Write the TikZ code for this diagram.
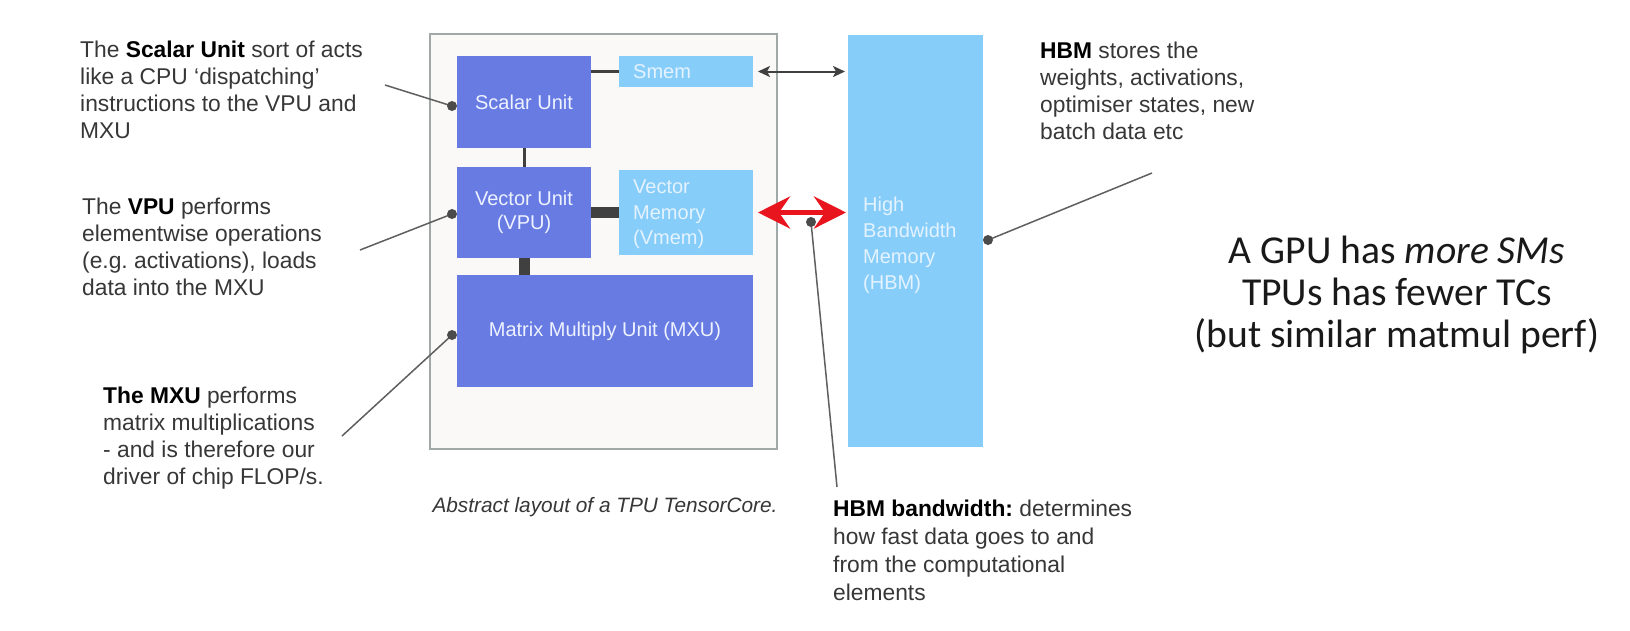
\documentclass[tikz,border=0pt]{standalone}
\usepackage{fontspec}
\setmainfont{Liberation Sans}
\newfontfamily\calibfont{Carlito}
\usetikzlibrary{arrows.meta}
\frenchspacing
\definecolor{unitblue}{RGB}{103,123,227}
\definecolor{memblue}{RGB}{135,205,250}
\definecolor{corefill}{RGB}{251,249,247}
\definecolor{coreedge}{RGB}{160,168,168}
\definecolor{conn}{RGB}{64,64,64}
\definecolor{bodytext}{RGB}{55,55,55}
\definecolor{leader}{RGB}{95,95,95}
\definecolor{dotcol}{RGB}{75,75,75}
\definecolor{hbmred}{RGB}{232,20,30}
\definecolor{memtext}{RGB}{228,243,255}
\definecolor{unittext}{RGB}{238,242,255}
\begin{document}
\begin{tikzpicture}[x=1pt,y=-1pt,
 corebox/.style={fill=corefill, draw=coreedge, line width=1.5pt, anchor=north west, inner sep=0, outer sep=0},
 unitbox/.style={fill=unitblue, draw=none, anchor=north west, inner sep=0, outer sep=0, text=unittext, font=\fontsize{20}{24}\selectfont, align=center},
 membox/.style={fill=memblue, draw=none, anchor=north west, inner sep=0, outer sep=0},
 memlabel/.style={anchor=north west, inner sep=0, text=memtext, font=\fontsize{20}{25.5}\selectfont, align=left},
 note/.style={anchor=north west, inner sep=0, text=bodytext, font=\fontsize{22.8}{27}\selectfont, align=left},
 leadline/.style={draw=leader, line width=1.5pt},
 dotmark/.style={circle, fill=dotcol, inner sep=0, minimum size=10pt},
 link/.style={draw=conn, line width=3pt},
 thicklink/.style={draw=conn, line width=11pt},
 smemarrow/.style={draw=conn, line width=2pt, {Stealth[length=12pt,width=11pt,inset=3pt]}-{Stealth[length=12pt,width=11pt,inset=3pt]}},
 redarrow/.style={draw=hbmred, line width=5.5pt, {Stealth[length=32pt,width=32pt,inset=11pt]}-{Stealth[length=32pt,width=32pt,inset=11pt]}},
]
\useasboundingbox (0,0) rectangle (1630,630);
\fill[white] (0,0) rectangle (1630,630);

% TensorCore
\node[corebox, minimum width=347pt, minimum height=415pt] (core) at (430,34) {};
\node[unitbox, minimum width=134pt, minimum height=92pt] (scalar) at (457,56) {Scalar Unit};
\node[membox, minimum width=134pt, minimum height=31pt] (smem) at (619,56) {};
\node[unitbox, minimum width=134pt, minimum height=91pt] (vector) at (457,167) {Vector Unit\\(VPU)};
\node[membox, minimum width=134pt, minimum height=85pt] (vmem) at (619,170) {};
\node[unitbox, minimum width=296pt, minimum height=112pt] (mxu) at (457,275) {Matrix Multiply Unit (MXU)};
\node[membox, minimum width=135pt, minimum height=412pt] (hbm) at (848,35) {};

\node[memlabel, anchor=west] (smemlbl) at (633,72) {Smem};
\node[memlabel] (vmemlbl) at (633,180) {Vector\\Memory\\(Vmem)};
\node[memlabel, font=\fontsize{20}{26}\selectfont] (hbmlbl) at (863,197) {High\\Bandwidth\\Memory\\(HBM)};

% connectors
\draw[link] (scalar.east |- smem.west) -- (smem.west);
\draw[link] (scalar.south) -- (vector.north);
\draw[thicklink] (vector.east) -- (vector.east -| vmem.west);
\draw[thicklink] (vector.south) -- (vector.south |- mxu.north);
\draw[smemarrow] ([xshift=5pt]smem.east) -- ([xshift=-3pt]smem.east -| hbm.west);
\draw[redarrow] ([xshift=5pt]vmem.east) -- ([xshift=-2pt]vmem.east -| hbm.west);

% notes
\node[note] (scalarnote) at (80,41) {The \textbf{\color{black}Scalar Unit} sort of acts\\like a CPU ‘dispatching’\\instructions to the VPU and\\MXU};
\node[note] (vpunote) at (82,198) {The \textbf{\color{black}VPU} performs\\elementwise operations\\(e.g. activations), loads\\data into the MXU};
\node[note] (mxunote) at (103,387) {\textbf{\color{black}The MXU} performs\\matrix multiplications\\- and is therefore our\\driver of chip FLOP/s.};
\node[note] (hbmnote) at (1040,42) {\textbf{\color{black}HBM} stores the\\weights, activations,\\optimiser states, new\\batch data etc};
\node[note, font=\fontsize{22.8}{28}\selectfont] (bwnote) at (833,500) {\textbf{\color{black}HBM bandwidth:} determines\\how fast data goes to and\\from the computational\\elements};
\node[font=\fontsize{20.8}{25}\selectfont\itshape, text=bodytext, inner sep=0] (caption) at (605,507) {Abstract layout of a TPU TensorCore.};
\node[anchor=north, align=center, inner sep=0, font=\calibfont\fontsize{39.6}{42}\selectfont, text=black!90] (gpunote) at (1397,236) {A GPU has \textit{more SMs}\\TPUs has fewer TCs\\(but similar matmul perf)};

% leaders
\coordinate (sEnd) at (385,85);
\coordinate (vEnd) at (360,250);
\coordinate (mEnd) at (342,436);
\coordinate (hEnd) at (1152,173);
\coordinate (bEnd) at (837,487);
\coordinate (sPt) at (452,106);
\coordinate (vPt) at (452,214);
\coordinate (mPt) at (452,335);
\coordinate (hPt) at (988,240);
\coordinate (bPt) at (811,222);
\draw[leadline] (sEnd) -- (sPt);
\draw[leadline] (vEnd) -- (vPt);
\draw[leadline] (mEnd) -- (mPt);
\draw[leadline] (hEnd) -- (hPt);
\draw[leadline] (bEnd) -- (bPt);
\node[dotmark] (sDot) at (sPt) {};
\node[dotmark] (vDot) at (vPt) {};
\node[dotmark] (mDot) at (mPt) {};
\node[dotmark] (hDot) at (hPt) {};
\node[dotmark] (bDot) at (bPt) {};
\end{tikzpicture}
\end{document}
